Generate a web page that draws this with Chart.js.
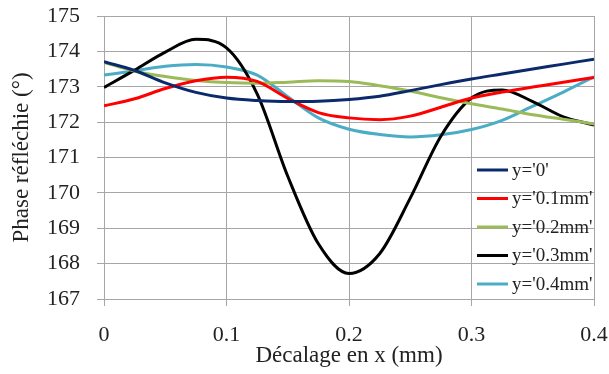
<!DOCTYPE html>
<html>
<head>
<meta charset="utf-8">
<script src="https://cdn.jsdelivr.net/npm/chart.js@4/dist/chart.umd.min.js"></script>
<style>
html,body{margin:0;padding:0;background:#fff;}
#wrap{width:609px;height:374px;}
</style>
</head>
<body>
<div id="wrap"><canvas id="c" width="609" height="374"></canvas></div>
<script>
// ---- data ----
const xValues = [0, 0.025, 0.05, 0.075, 0.1, 0.125, 0.15, 0.175, 0.2, 0.225, 0.25, 0.275, 0.3, 0.325, 0.35, 0.375, 0.4];
const seriesNames = ["y='0'", "y='0.1mm'", "y='0.2mm'", "y='0.3mm'", "y='0.4mm'"];
const phaseY0   = [173.71, 173.46, 173.11, 172.84, 172.68, 172.61, 172.58, 172.59, 172.64, 172.73, 172.89, 173.06, 173.22, 173.36, 173.50, 173.64, 173.78];
const phaseY01  = [172.46, 172.66, 172.95, 173.17, 173.27, 173.15, 172.67, 172.27, 172.12, 172.07, 172.17, 172.42, 172.68, 172.85, 172.99, 173.13, 173.26];
const phaseY02  = [173.69, 173.44, 173.29, 173.18, 173.12, 173.10, 173.13, 173.17, 173.15, 173.03, 172.88, 172.69, 172.52, 172.37, 172.21, 172.08, 171.95];
const phaseY03  = [172.98, 173.47, 173.98, 174.34, 174.10, 172.80, 170.47, 168.56, 167.72, 168.28, 169.85, 171.60, 172.68, 172.91, 172.58, 172.15, 171.92];
const phaseY04  = [173.33, 173.45, 173.58, 173.63, 173.56, 173.33, 172.72, 172.12, 171.80, 171.65, 171.58, 171.64, 171.79, 172.05, 172.45, 172.85, 173.28];
const seriesColors = ['#0B2A6B', '#FF0000', '#9BBB59', '#000000', '#4BACC6'];
const xTickValues = [0, 0.1, 0.2, 0.3, 0.4];
const xTickLabels = ['0', '0.1', '0.2', '0.3', '0.4'];
const yTickValues = [167, 168, 169, 170, 171, 172, 173, 174, 175];
const xTitle = 'Décalage en x (mm)';
const yTitle = 'Phase réfléchie (°)';

const allSeries = [phaseY0, phaseY01, phaseY02, phaseY03, phaseY04];
const FONT = "'Liberation Serif', 'Times New Roman', serif";

const datasets = allSeries.map((vals, i) => ({
  label: seriesNames[i],
  data: vals.map((v, k) => ({x: xValues[k], y: v})),
  borderColor: seriesColors[i],
  backgroundColor: seriesColors[i],
  borderWidth: 3,
  pointRadius: 0,
  cubicInterpolationMode: 'monotone',
  fill: false
}));

const insideLegend = {
  id: 'insideLegend',
  afterDraw(chart) {
    const ctx = chart.ctx;
    const a = chart.chartArea;
    const x0 = a.right - 117;
    const y0 = a.top + 154;
    const step = 28.5;
    ctx.save();
    ctx.font = '19px ' + FONT;
    ctx.textBaseline = 'middle';
    ctx.textAlign = 'left';
    chart.data.datasets.forEach((ds, i) => {
      const y = y0 + i * step;
      ctx.strokeStyle = ds.borderColor;
      ctx.lineWidth = 3;
      ctx.beginPath();
      ctx.moveTo(x0, y);
      ctx.lineTo(x0 + 31, y);
      ctx.stroke();
      ctx.fillStyle = '#222';
      ctx.fillText(ds.label, x0 + 35, y + 1);
    });
    ctx.restore();
  }
};

new Chart(document.getElementById('c'), {
  type: 'line',
  data: { datasets },
  plugins: [insideLegend],
  options: {
    responsive: false,
    animation: false,
    layout: { padding: { left: 0, top: 16, right: 15, bottom: 0 } },
    plugins: { legend: { display: false }, tooltip: { enabled: false } },
    scales: {
      x: {
        type: 'linear',
        min: 0, max: 0.4,
        afterBuildTicks: (s) => { s.ticks = xTickValues.map(v => ({value: v})); },
        afterFit: (s) => { s.height = 75; s.paddingLeft = 0; s.paddingRight = 0; },
        ticks: {
          callback: (v) => { const i = xTickValues.findIndex(t => Math.abs(t - v) < 1e-9); return i >= 0 ? xTickLabels[i] : ''; },
          font: { family: FONT, size: 22 },
          color: '#222',
          padding: 16,
          maxRotation: 0
        },
        grid: { color: '#a6a6a6', lineWidth: 1, tickLength: 7 },
        border: { color: '#a6a6a6' },
        title: { display: true, text: xTitle, font: { family: FONT, size: 23 }, color: '#222', padding: { top: 0, bottom: 4 } }
      },
      y: {
        type: 'linear',
        min: 167, max: 175,
        afterBuildTicks: (s) => { s.ticks = yTickValues.map(v => ({value: v})); },
        afterFit: (s) => { s.width = 104; s.paddingTop = 0; s.paddingBottom = 0; },
        ticks: {
          font: { family: FONT, size: 22 },
          color: '#222',
          padding: 17
        },
        grid: { color: '#a6a6a6', lineWidth: 1, tickLength: 7 },
        border: { color: '#a6a6a6' },
        title: { display: true, text: yTitle, font: { family: FONT, size: 23 }, color: '#222', padding: { top: 8, bottom: 0 } }
      }
    }
  }
});
</script>
</body>
</html>
